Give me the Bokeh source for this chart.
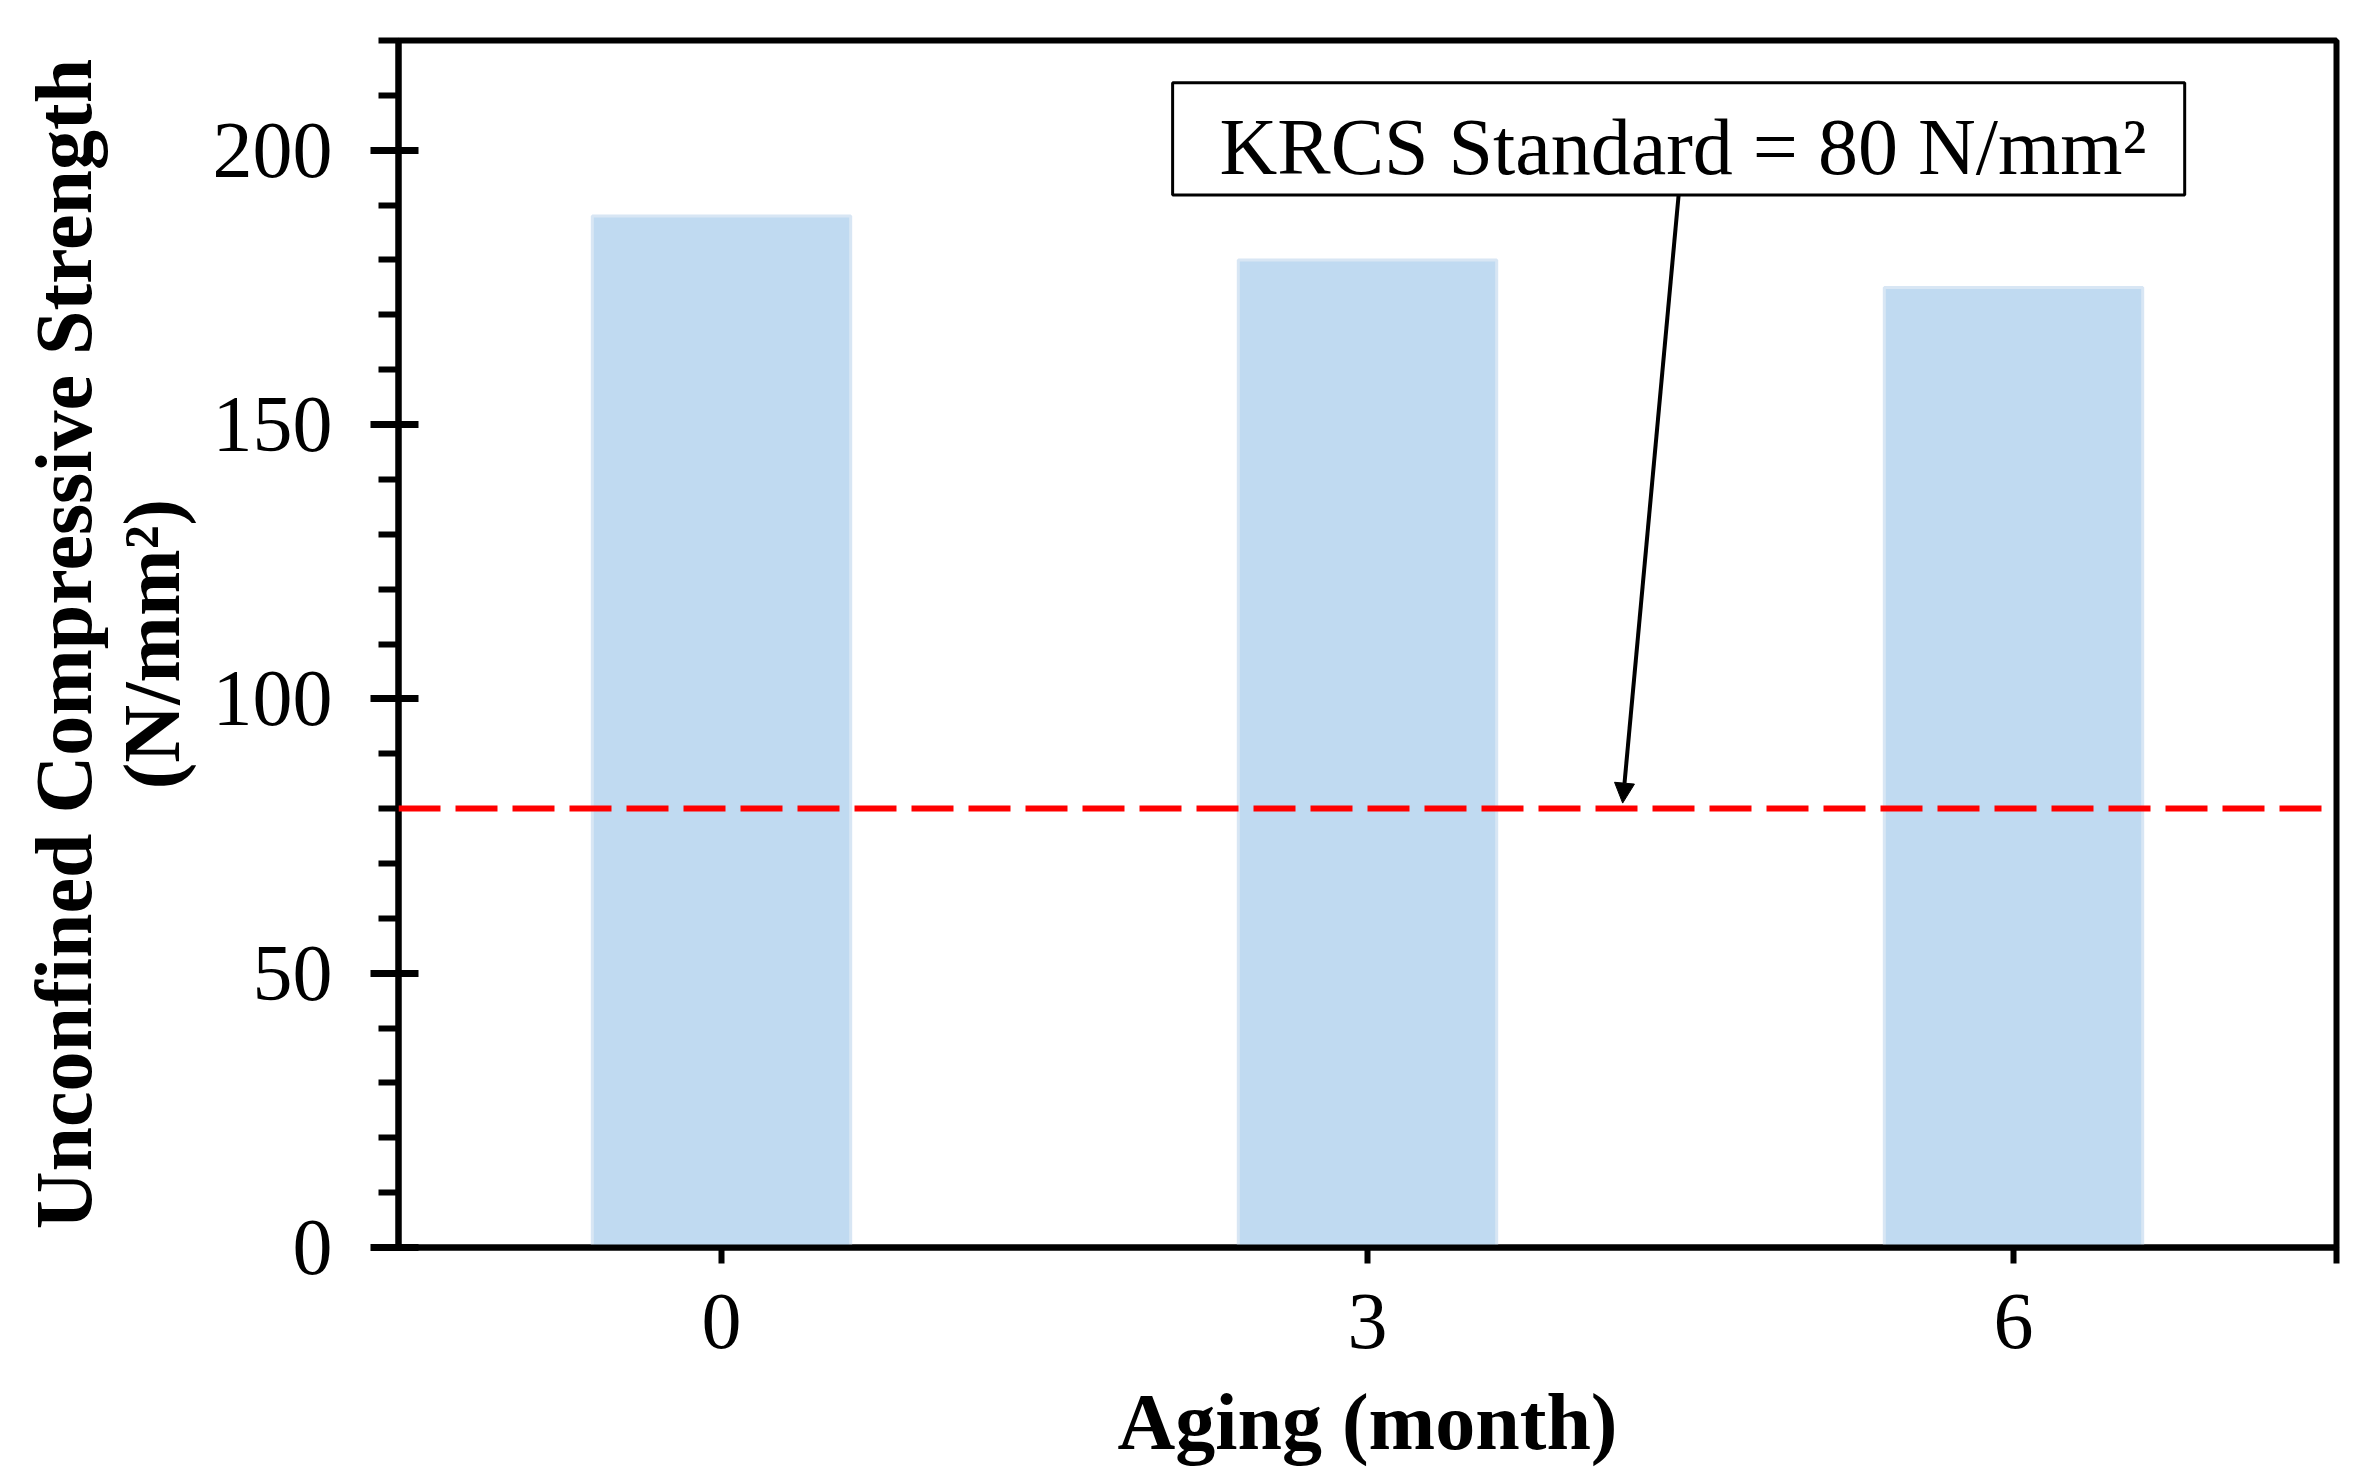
from bokeh.plotting import figure
from bokeh.models import (Range1d, FixedTicker, Span, Label, BoxAnnotation,
                          Arrow, NormalHead)
from bokeh.embed import file_html
from bokeh.resources import INLINE

# ---- data ----
aging = [0, 3, 6]
strength = [188, 180, 175]
standard_value = 80
y_major_ticks = [0, 50, 100, 150, 200]
y_minor_ticks = [10, 20, 30, 40, 60, 70, 80, 90, 110, 120, 130, 140,
                 160, 170, 180, 190, 210, 220]
x_ticks = [0, 3, 6, 7.5]
x_tick_labels = {0: "0", 3: "3", 6: "6", 7.5: ""}
annotation_text = "KRCS Standard = 80 N/mm\u00b2"
x_label = "Aging (month)"
y_label = "Unconfined Compressive Strength\n(N/mm\u00b2)"

FONT = "Liberation Serif"

p = figure(width=2350, height=1468, output_backend="svg", toolbar_location=None,
           x_range=Range1d(-1.5, 7.5), y_range=Range1d(0, 220),
           min_border_left=398, min_border_right=14, min_border_top=40,
           min_border_bottom=221)

p.grid.visible = False
p.outline_line_color = "black"
p.outline_line_width = 6
p.background_fill_color = "white"
p.border_fill_color = "white"

p.vbar(x=aging, top=strength, width=1.2, bottom=0,
       fill_color="#C0DAF1", line_color="#D8E6F4", line_width=3)

p.add_layout(Span(location=standard_value, dimension="width", line_color="#FF0000",
                  line_width=6, line_dash="42 15"))

# annotation box + arrow
p.add_layout(Arrow(end=NormalHead(size=20, fill_color="black", line_color="black", line_width=1),
                   x_start=4.445, y_start=191.9, x_end=4.185, y_end=81,
                   line_color="black", line_width=4))
p.add_layout(BoxAnnotation(left=2.095, right=6.795, bottom=191.85, top=212.3,
                           fill_color="white", fill_alpha=1.0,
                           line_color="black", line_alpha=1.0, line_width=3))
p.add_layout(Label(x=4.465, y=200.6, text=annotation_text, text_align="center",
                   text_baseline="middle", text_font=FONT, text_font_size="80px",
                   text_color="black"))

# axes
xa = p.xaxis[0]
xa.ticker = FixedTicker(ticks=x_ticks)
xa.major_label_overrides = x_tick_labels
xa.axis_line_width = 6
xa.major_tick_line_width = 6
xa.major_tick_in = 0
xa.major_tick_out = 16
xa.minor_tick_line_color = None
xa.major_label_text_font = FONT
xa.major_label_text_font_size = "80px"
xa.major_label_text_color = "black"
xa.major_label_standoff = 31
xa.axis_label = x_label
xa.axis_label_text_font = FONT
xa.axis_label_text_font_size = "80px"
xa.axis_label_text_font_style = "bold"
xa.axis_label_text_color = "black"
xa.axis_label_standoff = 27

ya = p.yaxis[0]
ya.ticker = FixedTicker(ticks=y_major_ticks, minor_ticks=y_minor_ticks)
ya.axis_line_width = 6
ya.major_tick_line_width = 7
ya.major_tick_in = 20
ya.major_tick_out = 28
ya.minor_tick_line_width = 6
ya.minor_tick_in = 0
ya.minor_tick_out = 20
ya.major_label_text_font = FONT
ya.major_label_text_font_size = "80px"
ya.major_label_text_color = "black"
ya.major_label_standoff = 38
ya.axis_label = y_label
ya.axis_label_text_font = FONT
ya.axis_label_text_font_size = "80px"
ya.axis_label_text_font_style = "bold"
ya.axis_label_text_color = "black"
ya.axis_label_text_line_height = 1.0
ya.axis_label_standoff = 14

open("out.html", "w").write(file_html(p, INLINE))
